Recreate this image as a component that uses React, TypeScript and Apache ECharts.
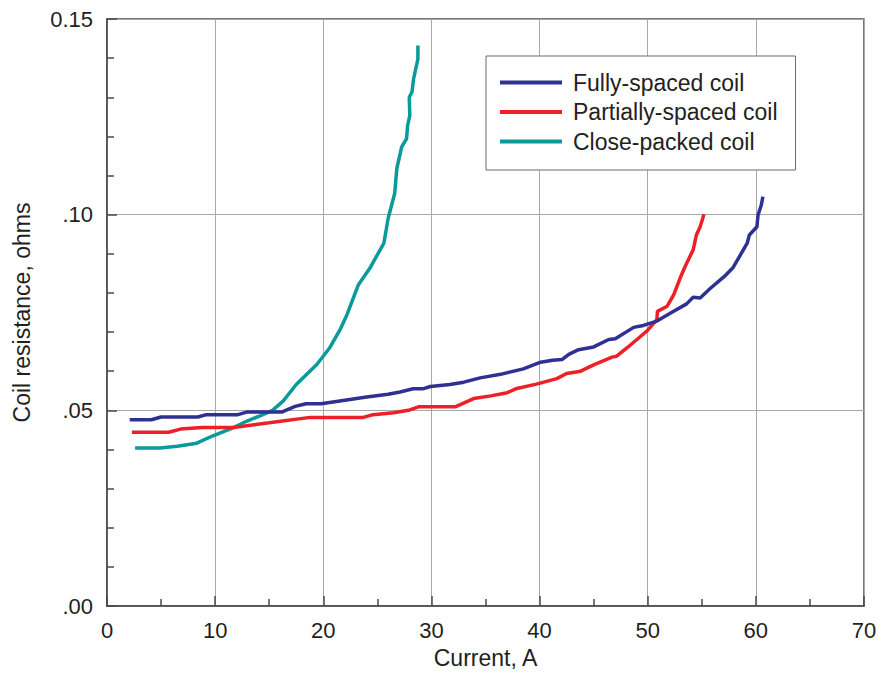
import React, { useEffect, useRef } from "react";
import * as echarts from "echarts";

// Current (A) and resistance (ohms)
const fullyX = [2.1, 4.1, 5.0, 8.4, 9.2, 12.1, 13.0, 16.2, 17.4, 18.4, 19.8, 22.0, 24.0, 26.0, 27.1, 28.3, 29.2, 29.9, 31.7, 33.0, 34.5, 36.4, 38.5, 40.1, 41.2, 42.1, 42.7, 43.6, 45.0, 46.4, 47.0, 48.7, 49.6, 50.85, 52.4, 53.6, 54.2, 54.85, 55.8, 57.2, 57.9, 58.4, 59.2, 59.4, 60.1, 60.2, 60.5, 60.65];
const fullyY = [0.0476, 0.0476, 0.0483, 0.0483, 0.0489, 0.0489, 0.0496, 0.0496, 0.0510, 0.0517, 0.0517, 0.0526, 0.0534, 0.0541, 0.0547, 0.0555, 0.0555, 0.0561, 0.0566, 0.0572, 0.0583, 0.0592, 0.0606, 0.0623, 0.0628, 0.0630, 0.0643, 0.0655, 0.0662, 0.0681, 0.0683, 0.0712, 0.0717, 0.0728, 0.0753, 0.0772, 0.0789, 0.0787, 0.0812, 0.0845, 0.0865, 0.0889, 0.0927, 0.0948, 0.0969, 0.0999, 0.1024, 0.1046];

const partialX = [2.3, 5.7, 6.8, 8.8, 11.7, 15.0, 18.8, 23.7, 24.6, 26.5, 28.0, 28.8, 32.2, 33.9, 35.5, 37.0, 37.9, 39.7, 41.6, 42.5, 43.8, 45.0, 46.7, 47.1, 48.1, 49.0, 49.9, 50.85, 50.9, 51.8, 52.4, 53.0, 53.5, 54.2, 54.5, 54.85, 55.2];
const partialY = [0.0444, 0.0444, 0.0452, 0.0456, 0.0456, 0.0468, 0.0482, 0.0482, 0.0489, 0.0494, 0.0501, 0.0509, 0.0509, 0.0530, 0.0537, 0.0545, 0.0556, 0.0567, 0.0581, 0.0594, 0.0600, 0.0616, 0.0636, 0.0638, 0.0660, 0.0681, 0.0702, 0.0732, 0.0753, 0.0766, 0.0795, 0.0838, 0.0870, 0.0910, 0.0948, 0.0969, 0.1001];

const closeX = [2.6, 4.9, 6.5, 8.3, 9.8, 11.7, 12.9, 14.15, 15.3, 16.3, 17.5, 19.4, 20.6, 21.55, 22.2, 23.25, 24.3, 25.6, 26.0, 26.6, 26.8, 27.25, 27.7, 27.8, 28.0, 27.95, 28.2, 28.35, 28.75, 28.75];
const closeY = [0.0404, 0.0404, 0.0408, 0.0416, 0.0435, 0.0456, 0.0472, 0.0486, 0.0500, 0.0524, 0.0566, 0.0617, 0.0660, 0.0706, 0.0745, 0.0821, 0.0863, 0.0927, 0.0991, 0.1054, 0.1118, 0.1173, 0.1194, 0.1228, 0.1253, 0.1300, 0.1313, 0.1347, 0.1398, 0.1432];

const seriesNames = ["Fully-spaced coil", "Partially-spaced coil", "Close-packed coil"];
const seriesColors = ["#2e3192", "#ed2027", "#0b9a9c"];
const yTickLabels: Record<number, string> = { 0: ".00", 5: ".05", 10: ".10", 15: "0.15" };

const zip = (xs: number[], ys: number[]) => xs.map((x, i) => [x, ys[i]]);

const FONT = "'Liberation Sans', Arial, Helvetica, sans-serif";
const TEXT = "#231f20";

export default function App() {
  const ref = useRef<HTMLDivElement>(null);
  useEffect(() => {
    if (!ref.current) return;
    const chart = echarts.init(ref.current, undefined, { renderer: "svg" });
    const datasets = [zip(fullyX, fullyY), zip(partialX, partialY), zip(closeX, closeY)];
    chart.setOption({
      animation: false,
      backgroundColor: "#ffffff",
      textStyle: { fontFamily: FONT },
      grid: {
        left: 107,
        right: 17,
        top: 19,
        bottom: 65,
        show: true,
        borderColor: "#4a4a4a",
        borderWidth: 1.5,
        backgroundColor: "transparent",
      },
      legend: {
        orient: "vertical",
        left: 486,
        top: 56,
        data: seriesNames,
        icon: "rect",
        itemWidth: 62,
        itemHeight: 4,
        itemGap: 6.5,
        padding: [15, 18, 17, 14],
        backgroundColor: "#ffffff",
        borderColor: "#6b6b6b",
        borderWidth: 1,
        textStyle: {
          fontFamily: FONT,
          fontSize: 23,
          color: TEXT,
          lineHeight: 22,
          padding: [0, 0, 0, 6],
        },
      },
      xAxis: {
        type: "value",
        min: 0,
        max: 70,
        interval: 10,
        name: "Current, A",
        nameLocation: "middle",
        nameGap: 40,
        nameTextStyle: { fontFamily: FONT, fontSize: 23, color: TEXT },
        axisLine: { show: true, lineStyle: { color: "#4a4a4a", width: 1.5 } },
        axisTick: { show: true, inside: true, length: 10, lineStyle: { color: "#4a4a4a", width: 1.5 } },
        minorTick: { show: true, splitNumber: 2, length: 7, lineStyle: { color: "#4a4a4a", width: 1.5 } },
        axisLabel: { fontFamily: FONT, fontSize: 22, color: TEXT, margin: 13 },
        splitLine: { show: true, lineStyle: { color: "#a8a8a8", width: 1 } },
      },
      yAxis: {
        type: "value",
        min: 0,
        max: 0.15,
        interval: 0.05,
        name: "Coil resistance, ohms",
        nameLocation: "middle",
        nameGap: 74,
        nameTextStyle: { fontFamily: FONT, fontSize: 23, color: TEXT },
        axisLine: { show: true, lineStyle: { color: "#4a4a4a", width: 1.5 } },
        axisTick: { show: true, inside: true, length: 10, lineStyle: { color: "#4a4a4a", width: 1.5 } },
        minorTick: { show: true, splitNumber: 5, length: 7, lineStyle: { color: "#4a4a4a", width: 1.5 } },
        axisLabel: {
          fontFamily: FONT,
          fontSize: 22,
          color: TEXT,
          margin: 14,
          formatter: (v: number) => yTickLabels[Math.round(v * 100)] ?? String(v),
        },
        splitLine: { show: true, lineStyle: { color: "#a8a8a8", width: 1 } },
      },
      series: datasets.map((d, i) => ({
        name: seriesNames[i],
        type: "line",
        data: d,
        showSymbol: false,
        symbol: "none",
        color: seriesColors[i],
        lineStyle: { color: seriesColors[i], width: 3.5 },
        z: 3 + (2 - i),
      })),
    });
    return () => chart.dispose();
  }, []);
  return (
    <div
      ref={ref}
      style={{ position: "fixed", left: 0, top: 0, width: 881, height: 674, background: "#fff" }}
    />
  );
}
